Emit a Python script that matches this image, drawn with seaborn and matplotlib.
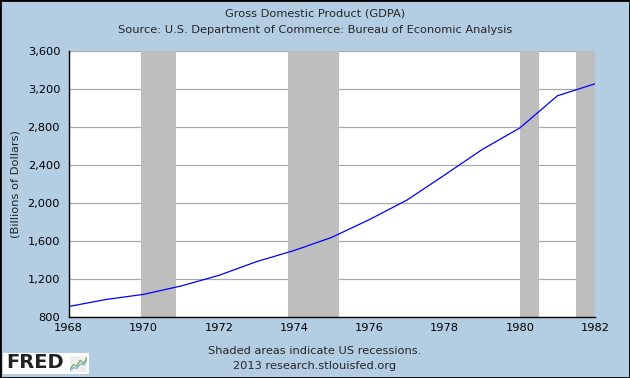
import pandas as pd
import matplotlib.pyplot as plt
import seaborn as sns
from matplotlib.ticker import FuncFormatter

# GDPA, annual, billions of dollars
years = [1968, 1969, 1970, 1971, 1972, 1973, 1974, 1975,
         1976, 1977, 1978, 1979, 1980, 1981, 1982]
gdp = [910.0, 984.6, 1038.5, 1127.1, 1238.3, 1382.7, 1500.0, 1638.3,
       1825.3, 2030.9, 2294.7, 2563.3, 2789.5, 3128.4, 3255.0]

# recession periods (start, end) in fractional years
rec_start = [1969.92, 1973.84, 1980.0, 1981.5]
rec_end = [1970.86, 1975.2, 1980.52, 1982.0]

df = pd.DataFrame({"year": years, "gdp": gdp})

bg = "#b3cde3"
sns.set_style("white")
plt.rcParams["font.family"] = ["DejaVu Sans"]
fs = 8.2

fig = plt.figure(figsize=(6.3, 3.78), dpi=100, facecolor=bg)
ax = fig.add_axes([68.5 / 630, 1 - 317 / 378, (595 - 68.5) / 630, (317 - 51) / 378])

for s, e in zip(rec_start, rec_end):
    ax.axvspan(s, e, color="#bebebe", lw=0, zorder=2)

sns.lineplot(data=df, x="year", y="gdp", color="#0000ff", lw=0.9, ax=ax, zorder=3)

ax.set_xlim(1968, 1982)
ax.set_ylim(800, 3600)
ax.set_xticks(range(1968, 1983, 2))
ax.set_yticks(range(800, 3601, 400))
ax.yaxis.set_major_formatter(FuncFormatter(lambda v, p: f"{int(v):,}"))
ax.grid(axis="y", color="#aaaaaa", lw=0.9, zorder=1)
ax.set_axisbelow(True)

for side in ["top", "right"]:
    ax.spines[side].set_visible(False)
for side in ["left", "bottom"]:
    ax.spines[side].set_color("black")
    ax.spines[side].set_linewidth(1.0)
    ax.spines[side].set_zorder(4)

ax.tick_params(axis="y", direction="out", length=4, width=0.8, colors="black", pad=2, labelsize=fs)
ax.tick_params(axis="x", direction="in", length=4, width=0.8, colors="black", pad=4, labelsize=fs)
ax.set_xlabel("")
ax.set_ylabel("(Billions of Dollars)", fontsize=fs, labelpad=5)

fig.text(0.5, 1 - 13 / 378, "Gross Domestic Product (GDPA)", ha="center", va="center", fontsize=fs)
fig.text(0.5, 1 - 30 / 378, "Source: U.S. Department of Commerce: Bureau of Economic Analysis",
         ha="center", va="center", fontsize=fs)
fig.text(0.5, 1 - 351 / 378, "Shaded areas indicate US recessions.", ha="center", va="center", fontsize=fs)
fig.text(0.5, 1 - 366 / 378, "2013 research.stlouisfed.org", ha="center", va="center", fontsize=fs)

# FRED logo box
fig.patches.append(plt.Rectangle((3 / 630, 1 - 374 / 378), 86 / 630, 21 / 378, transform=fig.transFigure,
                                 facecolor="white", edgecolor="none", zorder=0.5))
fig.text(6 / 630, 1 - 363 / 378, "FRED", ha="left", va="center", fontsize=14, fontweight="bold",
         color="#222222")
icon = fig.add_axes([70 / 630, 1 - 372 / 378, 17 / 630, 16 / 378])
icon.set_zorder(6)
icon.plot([0, 1, 2, 3, 4, 5], [0.2, 0.5, 0.4, 0.8, 0.6, 1.0], color="#6aa84f", lw=0.8)
icon.plot([0, 1, 2, 3, 4, 5], [0.1, 0.3, 0.25, 0.55, 0.5, 0.8], color="#6fa8dc", lw=0.8)
icon.set_xlim(0, 5)
icon.set_ylim(0, 1.1)
icon.set_facecolor("#eeeeee")
icon.set_xticks([])
icon.set_yticks([])
for sp in icon.spines.values():
    sp.set_visible(False)

# figure border
fig.patches.append(plt.Rectangle((0, 0), 1, 1, transform=fig.transFigure, fill=False,
                                 edgecolor="black", lw=2, zorder=10))

fig.savefig("out.png", dpi=100, facecolor=bg)
